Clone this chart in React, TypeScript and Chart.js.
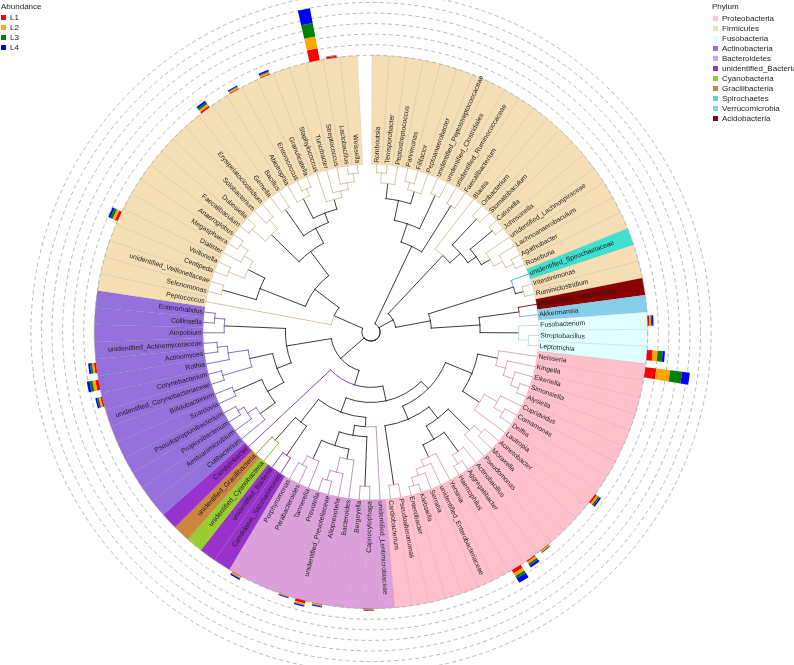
import React, { useEffect, useRef } from "react";
import { Chart, registerables } from "chart.js";
Chart.register(...registerables);

// ---------------- DATA ----------------
const LEAVES = [
  "Romboutsia", "Terrisporobacter", "Peptostreptococcus", "Parvimonas", "Filifactor",
  "Peptoanaerobacter", "unidentified_Peptostreptococcaceae", "unidentified_Clostridiales",
  "unidentified_Ruminococcaceae", "Faecalibacterium", "Blautia", "Oribacterium", "Stomatobaculum",
  "Catonella", "Johnsonella", "unidentified_Lachnospiraceae", "Lachnoanaerobaculum", "Agathobacter",
  "Roseburia", "unidentified_Spirochaetaceae", "Intestinimonas", "Ruminiclostridium",
  "unidentified_Acidobacteria", "Akkermansia", "Fusobacterium", "Streptobacillus", "Leptotrichia",
  "Neisseria", "Kingella", "Eikenella", "Simonsiella", "Alysiella", "Cupriavidus", "Comamonas",
  "Delftia", "Lautropia", "Acinetobacter", "Moraxella", "Pseudomonas", "Actinobacillus",
  "Aggregatibacter", "Haemophilus", "Yersinia", "unidentified_Enterobacteriaceae", "Serratia",
  "Klebsiella", "Enterobacter", "Pseudoalteromonas", "Cardiobacterium",
  "unidentified_Lentimicrobiaceae", "Capnocytophaga", "Bergeyella", "Bacteroides", "Alloprevotella",
  "unidentified_Prevotellaceae", "Prevotella", "Tannerella", "Parabacteroides", "Porphyromonas",
  "Candidatus_Saccharimonas", "unidentified_Bacteria", "unidentified_Cyanobacteria",
  "unidentified_Gracilibacteria", "Campylobacter", "Cutibacterium", "Aestuariimicrobium",
  "Propionibacterium", "Pseudopropionibacterium", "Scardovia", "Bifidobacterium",
  "unidentified_Corynebacteriaceae", "Corynebacterium", "Rothia", "Actinomyces",
  "unidentified_Actinomycetaceae", "Atopobium", "Collinsella", "Enterorhabdus", "Peptococcus",
  "Selenomonas", "unidentified_Veillonellaceae", "Centipeda", "Veillonella", "Dialister",
  "Megasphaera", "Anaeroglobus", "Faecalibaculum", "Dubosiella", "Solobacterium",
  "Erysipelatoclostridium", "Gemella", "Bacillus", "Abiotrophia", "Enterococcus", "Granulicatella",
  "Staphylococcus", "Turicibacter", "Streptococcus", "Lactobacillus", "Weissella",
];

const PHYLA = [
  "Proteobacteria", "Firmicutes", "Fusobacteria", "Actinobacteria", "Bacteroidetes",
  "unidentified_Bacteria", "Cyanobacteria", "Gracilibacteria", "Spirochaetes",
  "Verrucomicrobia", "Acidobacteria",
];
const PHYLUM_COLORS = [
  "#FFC0CB", "#F5DEB3", "#E0FFFF", "#9370DB", "#DDA0DD", "#9932CC", "#9ACD32", "#CD853F",
  "#40E0D0", "#87CEEB", "#8B0000",
];
// consecutive leaves (in LEAVES order) belonging to one phylum: [phylum index, leaf count]
const PHYLUM_RUNS: [number, number][] = [
  [1, 19], [8, 1], [1, 2], [10, 1], [9, 1], [2, 3], [0, 22], [4, 10], [5, 2], [6, 1], [7, 1],
  [5, 1], [3, 14], [1, 22],
];

// abundance (%) per sample for the taxa carrying bars
const ABUND_TAXA = [
  "Streptococcus", "Neisseria", "Leptotrichia", "Fusobacterium", "Haemophilus", "Aggregatibacter",
  "Actinobacillus", "Lautropia", "Rothia", "Actinomyces", "Corynebacterium", "Veillonella",
  "Gemella", "Abiotrophia", "Granulicatella", "Lactobacillus", "Capnocytophaga", "Porphyromonas",
  "Prevotella", "unidentified_Prevotellaceae", "Alloprevotella",
];
const ABUND_L1 = [11.3, 10.4, 5.3, 1.9, 3.4, 1.2, 0.6, 1.8, 3.0, 2.0, 1.6, 2.7, 1.8, 0.8, 0.8, 1.6, 0.5, 0.6, 0.3, 2.6, 0.6];
const ABUND_L2 = [11.4, 13.2, 4.7, 1.2, 3.0, 2.0, 1.0, 1.7, 2.8, 1.9, 1.8, 2.4, 1.9, 1.2, 1.6, 0.3, 0.6, 1.4, 0.4, 1.4, 0.9];
const ABUND_L3 = [13.1, 11.3, 4.7, 1.2, 2.5, 2.0, 0.6, 1.6, 2.8, 1.9, 1.6, 2.4, 2.0, 0.8, 0.7, 0.2, 0.4, 0.4, 0.6, 0.5, 0.5];
const ABUND_L4 = [14.2, 7.5, 2.2, 1.3, 5.0, 2.3, 0.5, 1.6, 2.6, 1.7, 1.5, 2.0, 1.9, 1.0, 1.5, 0.2, 0.5, 1.4, 0.7, 1.2, 1.0];
const SAMPLES = ["L1", "L2", "L3", "L4"];
const SAMPLE_COLORS = ["#FF0000", "#FFA500", "#008000", "#0000FF"];
const ABUND_GRID = [0, 10, 20, 30, 40, 50, 60]; // % gridlines (dashed circles)

// Tree: "(a,b):d" -> internal node at depth d (fraction of tip radius), leaves at tips
const CLADE_PEPTO =
  "(((Romboutsia,Terrisporobacter):0.95,Peptostreptococcus):0.89,((Parvimonas,Filifactor):0.92,Peptoanaerobacter):0.875):0.80";
const CLADE_CLOS = `((${CLADE_PEPTO},(unidentified_Peptostreptococcaceae,unidentified_Clostridiales):0.90):0.68,(unidentified_Ruminococcaceae,Faecalibacterium):0.89):0.565`;
const CLADE_LACH =
  "(Blautia,((Oribacterium,Stomatobaculum):0.92,((Catonella,Johnsonella):0.94,(unidentified_Lachnospiraceae,(Lachnoanaerobaculum,(Agathobacter,Roseburia):0.94):0.89):0.83):0.77):0.71):0.625";
const CLADE_MIXED =
  "((unidentified_Spirochaetaceae,(Intestinimonas,Ruminiclostridium):0.94):0.89,((unidentified_Acidobacteria,Akkermansia):0.89,(Fusobacterium,(Streptobacillus,Leptotrichia):0.94):0.88):0.65):0.36";
const CLADE_NEIS = "(Neisseria,(Kingella,(Eikenella,(Simonsiella,Alysiella):0.94):0.89):0.83):0.77";
const CLADE_BURK = "((Cupriavidus,(Comamonas,Delftia):0.92):0.86,Lautropia):0.77";
const CLADE_PSEUDOM = "((Acinetobacter,Moraxella):0.89,Pseudomonas):0.83";
const CLADE_PAST = "(Actinobacillus,(Aggregatibacter,Haemophilus):0.94):0.88";
const CLADE_ENT = "(Yersinia,(unidentified_Enterobacteriaceae,(Serratia,(Klebsiella,Enterobacter):0.95):0.90):0.86):0.82";
const CLADE_PROT = `((${CLADE_NEIS},${CLADE_BURK}):0.65,((${CLADE_PSEUDOM},(${CLADE_PAST},${CLADE_ENT}):0.74):0.65,(Pseudoalteromonas,Cardiobacterium):0.92):0.565):0.48`;
const CLADE_BACT =
  "(unidentified_Lentimicrobiaceae,((Capnocytophaga,Bergeyella):0.92,((Bacteroides,(Alloprevotella,(unidentified_Prevotellaceae,Prevotella):0.92):0.86):0.77,(Tannerella,(Parabacteroides,Porphyromonas):0.89):0.83):0.71):0.625):0.565";
const CLADE_CPR =
  "((Candidatus_Saccharimonas,unidentified_Bacteria):0.89,(unidentified_Cyanobacteria,unidentified_Gracilibacteria):0.86):0.68";
const CLADE_ACT =
  "((((Cutibacterium,(Aestuariimicrobium,(Propionibacterium,Pseudopropionibacterium):0.92):0.88):0.82,(Scardovia,Bifidobacterium):0.89):0.71,((unidentified_Corynebacteriaceae,Corynebacterium):0.92,(Rothia,(Actinomyces,unidentified_Actinomycetaceae):0.92):0.86):0.74):0.60,(Atopobium,(Collinsella,Enterorhabdus):0.935):0.875):0.51";
const CLADE_BOTTOM = `(((${CLADE_PROT},(${CLADE_BACT},${CLADE_CPR}):0.51):0.42,Campylobacter):0.33,${CLADE_ACT}):0.24`;
const CLADE_NEG =
  "((Selenomonas,unidentified_Veillonellaceae):0.92,((Centipeda,Veillonella):0.92,(Dialister,(Megasphaera,Anaeroglobus):0.935):0.88):0.82):0.71";
const CLADE_ERY = "((Faecalibaculum,Dubosiella):0.935,(Solobacterium,Erysipelatoclostridium):0.90):0.83";
const CLADE_BACILLI =
  "((Gemella,Bacillus):0.89,((Abiotrophia,(Enterococcus,Granulicatella):0.935):0.89,(Staphylococcus,(Turicibacter,(Streptococcus,(Lactobacillus,Weissella):0.95):0.90):0.86):0.82):0.76):0.70";
const CLADE_LEFT = `(Peptococcus,(${CLADE_NEG},(${CLADE_ERY},${CLADE_BACILLI}):0.60):0.42):0.24`;
const TREE_NEWICK = `(${CLADE_CLOS},(${CLADE_LACH},${CLADE_MIXED}):0.15,${CLADE_BOTTOM},${CLADE_LEFT}):0.055`;

const GAP_SLOTS = 0.85; // open gap at the top, in leaf widths

// ---------------- STYLE ----------------
const FONT = "'Liberation Sans', Arial, Helvetica, sans-serif";
const CENTER_X = 371;
const CENTER_Y = 332;
const OUTER_R = 277;
const TIP_RATIO = 0.6065;
const PCT_PER_RING = 103; // label ring thickness expressed in abundance-% units
const BAR_WIDTH_SLOTS = 0.6;

type TNode = {
  name?: string;
  depth: number;
  children: TNode[];
  angle: number;
  phylum: number;
  nLeaves: number;
};

function parseNewick(src: string): TNode {
  const s = src.replace(/\s+/g, "");
  let i = 0;
  const readNum = () => {
    const j = i;
    while (i < s.length && /[0-9.eE+-]/.test(s[i])) i++;
    return parseFloat(s.slice(j, i));
  };
  const node = (): TNode => {
    if (s[i] === "(") {
      i++;
      const children: TNode[] = [node()];
      while (s[i] === ",") {
        i++;
        children.push(node());
      }
      i++; // ')'
      let depth = 0;
      if (s[i] === ":") {
        i++;
        depth = readNum();
      }
      return { depth, children, angle: 0, phylum: -1, nLeaves: 0 };
    }
    const j = i;
    while (i < s.length && !/[,():;]/.test(s[i])) i++;
    const name = s.slice(j, i);
    if (s[i] === ":") {
      i++;
      readNum();
    }
    return { name, depth: 1, children: [], angle: 0, phylum: -1, nLeaves: 1 };
  };
  return node();
}

function leafPhyla(): number[] {
  const out: number[] = [];
  PHYLUM_RUNS.forEach(([p, n]) => {
    for (let k = 0; k < n; k++) out.push(p);
  });
  return out;
}

function shade(hex: string, f: number) {
  const n = parseInt(hex.slice(1), 16);
  const r = (n >> 16) & 255, g = (n >> 8) & 255, b = n & 255;
  return `rgb(${Math.round(r * f)},${Math.round(g * f)},${Math.round(b * f)})`;
}

const overlayPlugin = {
  id: "treeOverlay",
  afterDatasetsDraw(chart: any) {
    const meta = chart.getDatasetMeta(0);
    const arcs = meta.data as any[];
    if (!arcs || arcs.length < LEAVES.length) return;
    const ctx: CanvasRenderingContext2D = chart.ctx;
    const cx = arcs[0].x, cy = arcs[0].y;
    const rTip = arcs[0].innerRadius, rOut = arcs[0].outerRadius;
    const pxPerPct = (rOut - rTip) / PCT_PER_RING;
    const leafAngle = LEAVES.map((_, k) => (arcs[k].startAngle + arcs[k].endAngle) / 2);
    const slot = arcs[0].endAngle - arcs[0].startAngle;
    const phyla = leafPhyla();

    // dashed abundance grid circles
    ctx.save();
    ctx.strokeStyle = "#a8a8a8";
    ctx.lineWidth = 0.8;
    ctx.setLineDash([4, 3]);
    ABUND_GRID.forEach((g) => {
      ctx.beginPath();
      ctx.arc(cx, cy, rOut + g * pxPerPct, 0, Math.PI * 2);
      ctx.stroke();
    });
    ctx.restore();

    // tree
    const root = parseNewick(TREE_NEWICK);
    const prep = (n: TNode) => {
      if (!n.children.length) {
        const k = LEAVES.indexOf(n.name as string);
        n.angle = leafAngle[k];
        n.phylum = phyla[k];
        n.nLeaves = 1;
        return;
      }
      n.children.forEach(prep);
      n.angle = n.children.reduce((a, c) => a + c.angle, 0) / n.children.length;
      n.nLeaves = n.children.reduce((a, c) => a + c.nLeaves, 0);
      const p0 = n.children[0].phylum;
      n.phylum = n.children.every((c) => c.phylum === p0 && p0 >= 0) ? p0 : -1;
    };
    prep(root);
    const segs: { p: TNode; c: TNode; color: string | null }[] = [];
    const walk = (n: TNode) => {
      n.children.forEach((c) => {
        let color: string | null = null;
        if (!c.children.length) color = shade(PHYLUM_COLORS[c.phylum], 0.85);
        else if (n.phylum >= 0 && n.nLeaves <= 5) color = shade(PHYLUM_COLORS[n.phylum], 0.85);
        segs.push({ p: n, c, color });
        walk(c);
      });
    };
    walk(root);
    const drawSeg = (sg: { p: TNode; c: TNode }) => {
      const rp = sg.p.depth * rTip, rc = sg.c.depth * rTip;
      const a0 = Math.min(sg.p.angle, sg.c.angle), a1 = Math.max(sg.p.angle, sg.c.angle);
      ctx.beginPath();
      if (a1 - a0 > 1e-6) ctx.arc(cx, cy, rp, a0, a1);
      ctx.stroke();
      ctx.beginPath();
      ctx.moveTo(cx + rp * Math.cos(sg.c.angle), cy + rp * Math.sin(sg.c.angle));
      ctx.lineTo(cx + rc * Math.cos(sg.c.angle), cy + rc * Math.sin(sg.c.angle));
      ctx.stroke();
    };
    ctx.save();
    ctx.lineWidth = 0.9;
    ctx.lineCap = "square";
    ctx.strokeStyle = "#262626";
    segs.filter((s) => !s.color).forEach(drawSeg);
    segs.filter((s) => s.color).forEach((s) => {
      ctx.strokeStyle = s.color as string;
      drawSeg(s);
    });
    ctx.restore();

    // leaf labels
    ctx.save();
    ctx.font = `6.8px ${FONT}`;
    ctx.fillStyle = "#1c1c1c";
    ctx.textBaseline = "middle";
    LEAVES.forEach((name, k) => {
      const a = leafAngle[k];
      ctx.save();
      ctx.translate(cx, cy);
      if (Math.cos(a) >= 0) {
        ctx.rotate(a);
        ctx.textAlign = "left";
        ctx.fillText(name, rTip + 1.5, 0);
      } else {
        ctx.rotate(a + Math.PI);
        ctx.textAlign = "right";
        ctx.fillText(name, -(rTip + 1.5), 0);
      }
      ctx.restore();
    });
    ctx.restore();

    // stacked abundance bars
    const series = [ABUND_L1, ABUND_L2, ABUND_L3, ABUND_L4];
    ctx.save();
    ABUND_TAXA.forEach((name, t) => {
      const k = LEAVES.indexOf(name);
      if (k < 0) return;
      const a = leafAngle[k];
      const hw = (slot * BAR_WIDTH_SLOTS) / 2;
      let cum = 0;
      series.forEach((vals, s) => {
        const v = vals[t];
        const r1 = rOut + cum * pxPerPct, r2 = rOut + (cum + v) * pxPerPct;
        ctx.beginPath();
        ctx.arc(cx, cy, r2, a - hw, a + hw);
        ctx.arc(cx, cy, r1, a + hw, a - hw, true);
        ctx.closePath();
        ctx.fillStyle = SAMPLE_COLORS[s];
        ctx.fill();
        cum += v;
      });
    });
    ctx.restore();
  },
};

const textStyle: React.CSSProperties = {
  position: "absolute",
  fontFamily: FONT,
  fontSize: 8,
  lineHeight: "10px",
  color: "#222",
  whiteSpace: "nowrap",
};

export default function App() {
  const canvasRef = useRef<HTMLCanvasElement | null>(null);

  useEffect(() => {
    if (!canvasRef.current) return;
    const phyla = leafPhyla();
    const W = 794, H = 665;
    const chart = new Chart(canvasRef.current, {
      type: "doughnut",
      data: {
        labels: [...LEAVES, ""],
        datasets: [
          {
            data: [...LEAVES.map(() => 1), GAP_SLOTS],
            backgroundColor: [...phyla.map((p) => PHYLUM_COLORS[p]), "rgba(0,0,0,0)"],
            borderColor: [...LEAVES.map(() => "rgba(110,110,110,0.2)"), "rgba(0,0,0,0)"],
            borderWidth: [...LEAVES.map(() => 0.6), 0],
          },
        ],
      },
      options: {
        animation: false,
        responsive: true,
        maintainAspectRatio: false,
        events: [],
        rotation: 0.2,
        circumference: 360,
        cutout: `${TIP_RATIO * 100}%`,
        layout: {
          padding: {
            left: CENTER_X - OUTER_R,
            right: W - CENTER_X - OUTER_R,
            top: CENTER_Y - OUTER_R,
            bottom: H - CENTER_Y - OUTER_R,
          },
        },
        plugins: { legend: { display: false }, tooltip: { enabled: false } },
      } as any,
      plugins: [overlayPlugin as any],
    });
    return () => chart.destroy();
  }, []);

  return (
    <div style={{ position: "absolute", left: 0, top: 0, width: 794, height: 665, background: "#fff" }}>
      <canvas ref={canvasRef} />
      <div style={{ ...textStyle, left: 1, top: 2 }}>Abundance</div>
      {SAMPLES.map((s, k) => (
        <React.Fragment key={s}>
          <div style={{ position: "absolute", left: 1, top: 15 + 10 * k, width: 5, height: 5, background: SAMPLE_COLORS[k] }} />
          <div style={{ ...textStyle, left: 10, top: 12.5 + 10 * k }}>{s}</div>
        </React.Fragment>
      ))}
      <div style={{ ...textStyle, left: 712, top: 2 }}>Phylum</div>
      {PHYLA.map((p, k) => (
        <React.Fragment key={p}>
          <div style={{ position: "absolute", left: 713, top: 16 + 10 * k, width: 5, height: 5, background: PHYLUM_COLORS[k] }} />
          <div style={{ ...textStyle, left: 722, top: 13.5 + 10 * k }}>{p}</div>
        </React.Fragment>
      ))}
    </div>
  );
}
